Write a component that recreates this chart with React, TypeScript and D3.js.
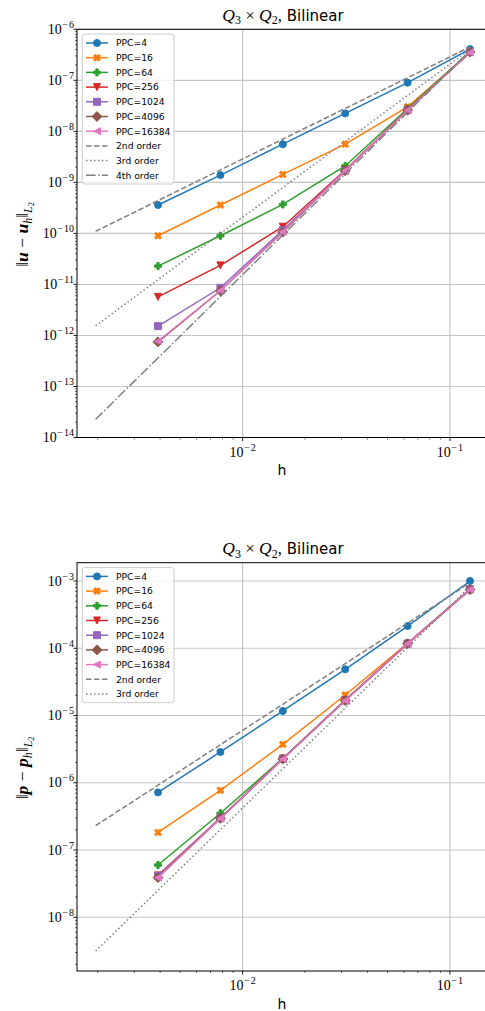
import * as d3 from 'd3'

// mesh sizes
const H_DATA = [0.00390625, 0.0078125, 0.015625, 0.03125, 0.0625, 0.125]
const H_REF = [0.001953125, 0.00390625, 0.0078125, 0.015625, 0.03125, 0.0625, 0.125]

const PPC_LABELS = ['PPC=4', 'PPC=16', 'PPC=64', 'PPC=256', 'PPC=1024', 'PPC=4096', 'PPC=16384']
const PPC_COLORS = ['#1f77b4', '#ff7f0e', '#2ca02c', '#d62728', '#9467bd', '#8c564b', '#e377c2']
const PPC_MARKERS = ['o', 'X', 'P', 'v', 's', 'D', '<']

const ORDER_LABELS = ['2nd order', '3rd order', '4th order']
const ORDER_DASH = ['5.55,2.4', '1.5,2.475', '9.6,2.4,1.5,2.4']

// velocity error ||u - u_h||
const U_PPC4 = [3.6e-10, 1.39e-9, 5.6e-9, 2.25e-8, 9.0e-8, 4.1e-7]
const U_PPC16 = [9.0e-11, 3.6e-10, 1.43e-9, 5.6e-9, 3.03e-8, 3.5e-7]
const U_PPC64 = [2.29e-11, 9.0e-11, 3.7e-10, 2.1e-9, 2.8e-8, 3.65e-7]
const U_PPC256 = [5.7e-12, 2.36e-11, 1.35e-10, 1.75e-9, 2.65e-8, 3.5e-7]
const U_PPC1024 = [1.52e-12, 8.6e-12, 1.16e-10, 1.7e-9, 2.6e-8, 3.6e-7]
const U_PPC4096 = [7.5e-13, 7.5e-12, 1.06e-10, 1.68e-9, 2.6e-8, 3.6e-7]
const U_PPC16384 = [7.7e-13, 7.6e-12, 1.08e-10, 1.7e-9, 2.6e-8, 3.5e-7]
const U_ORDER2 = [1.1e-10, 4.39e-10, 1.76e-9, 7.03e-9, 2.81e-8, 1.125e-7, 4.5e-7]
const U_ORDER3 = [1.54e-12, 1.24e-11, 9.89e-11, 7.91e-10, 6.33e-9, 5.06e-8, 4.05e-7]
const U_ORDER4 = [2.27e-14, 3.62e-13, 5.8e-12, 9.28e-11, 1.48e-9, 2.375e-8, 3.8e-7]

// pressure error ||p - p_h||
const P_PPC4 = [7.2e-7, 2.87e-6, 1.17e-5, 4.87e-5, 2.14e-4, 1.0e-3]
const P_PPC16 = [1.83e-7, 7.73e-7, 3.73e-6, 2.02e-5, 1.18e-4, 7.5e-4]
const P_PPC64 = [6.0e-8, 3.52e-7, 2.31e-6, 1.7e-5, 1.17e-4, 7.5e-4]
const P_PPC256 = [4.2e-8, 3.0e-7, 2.28e-6, 1.68e-5, 1.17e-4, 7.5e-4]
const P_PPC1024 = [4.1e-8, 2.98e-7, 2.27e-6, 1.67e-5, 1.17e-4, 7.5e-4]
const P_PPC4096 = [3.9e-8, 2.96e-7, 2.26e-6, 1.67e-5, 1.17e-4, 7.45e-4]
const P_PPC16384 = [3.9e-8, 2.95e-7, 2.26e-6, 1.67e-5, 1.17e-4, 7.45e-4]
const P_ORDER2 = [2.3e-7, 9.2e-7, 3.68e-6, 1.47e-5, 5.89e-5, 2.36e-4, 9.4e-4]
const P_ORDER3 = [3.15e-9, 2.52e-8, 2.02e-7, 1.61e-6, 1.29e-5, 1.03e-4, 8.26e-4]

const X_DECADES = [-2, -1]
const U_DECADES = [-14, -13, -12, -11, -10, -9, -8, -7, -6]
const P_DECADES = [-8, -7, -6, -5, -4, -3]

const WIDTH = 485
const HEIGHT = 1011
const LEFT = 77
const RIGHT = 488.7
const MS = 7
const GRAY = '#808080'
const SANS = 'DejaVu Sans, sans-serif'
const SERIF = 'Liberation Serif, DejaVu Serif, serif'

const xScale = d3.scaleLog().domain([10 ** -2.799, 10 ** -0.813]).range([LEFT, RIGHT])

function markerPath(kind: string, s: number): string {
  const h = s / 2
  const poly = (pts: number[][]) => 'M' + pts.map(p => `${p[0]},${p[1]}`).join('L') + 'Z'
  switch (kind) {
    case 's':
      return poly([[-h, -h], [h, -h], [h, h], [-h, h]])
    case 'D': {
      const d = h * Math.SQRT2
      return poly([[0, -d], [d, 0], [0, d], [-d, 0]])
    }
    case 'v':
      return poly([[-h, -h], [h, -h], [0, h]])
    case '<':
      return poly([[-h, 0], [h, -h], [h, h]])
    case 'P': {
      const a = s / 6
      return poly([[-a, -h], [a, -h], [a, -a], [h, -a], [h, a], [a, a], [a, h], [-a, h], [-a, a], [-h, a], [-h, -a], [-a, -a]])
    }
    case 'X': {
      const u = [[0.25, 0], [0.5, 0.25], [0.75, 0], [1, 0.25], [0.75, 0.5], [1, 0.75], [0.75, 1], [0.5, 0.75], [0.25, 1], [0, 0.75], [0.25, 0.5], [0, 0.25]]
      return poly(u.map(([a, b]) => [(a - 0.5) * s, (b - 0.5) * s]))
    }
    default:
      return `M${-h},0A${h},${h} 0 1,0 ${h},0A${h},${h} 0 1,0 ${-h},0Z`
  }
}

function Marker({ kind, x, y, color }: { kind: string; x: number; y: number; color: string }) {
  return (
    <path
      d={markerPath(kind, MS)}
      transform={`translate(${x},${y})`}
      fill={color}
      stroke={color}
      strokeWidth={1}
      strokeLinejoin="miter"
    />
  )
}

// 10^{-e} in the mathtext look
function Pow10({ e }: { e: number }) {
  return (
    <>
      <tspan fontSize={14}>10</tspan>
      <tspan fontSize={10} dy={-6} dx={0.5}>{'\u2212'}</tspan>
      <tspan fontSize={10} dx={1}>{Math.abs(e)}</tspan>
    </>
  )
}

type PanelProps = {
  top: number
  bottom: number
  yDomain: [number, number]
  decades: number[]
  data: number[][]
  orders: number[][]
  titleY: number
  label: 'u' | 'p'
}

function Panel({ top, bottom, yDomain, decades, data, orders, titleY, label }: PanelProps) {
  const yScale = d3.scaleLog().domain(yDomain).range([bottom, top])
  const line = d3.line<[number, number]>()
    .x(d => xScale(d[0]))
    .y(d => yScale(d[1]))

  const yMinors: number[] = []
  for (let k = Math.floor(Math.log10(yDomain[0])); k <= Math.ceil(Math.log10(yDomain[1])); k++) {
    for (let m = 2; m <= 9; m++) {
      const v = m * 10 ** k
      if (v >= yDomain[0] && v <= yDomain[1]) yMinors.push(v)
    }
  }
  const xMinors: number[] = []
  for (let k = -3; k <= -1; k++) {
    for (let m = 2; m <= 9; m++) {
      const v = m * 10 ** k
      const px = xScale(v)
      if (px >= LEFT && px <= RIGHT) xMinors.push(v)
    }
  }

  const legendItems = [
    ...PPC_LABELS.map((l, i) => ({ label: l, color: PPC_COLORS[i], marker: PPC_MARKERS[i], dash: '' })),
    ...orders.map((_, i) => ({ label: ORDER_LABELS[i], color: GRAY, marker: '', dash: ORDER_DASH[i] }))
  ]
  const legTop = top + 4.7
  const rowH = 14.7
  const legH = legendItems.length * rowH + 3

  const midY = (top + bottom) / 2

  return (
    <g>
      {/* title */}
      <text x={283} y={titleY} textAnchor="middle" fill="#000">
        <tspan fontFamily={SERIF} fontStyle="italic" fontSize={17.5}>Q</tspan>
        <tspan fontFamily={SERIF} fontSize={12} dy={3.5}>3</tspan>
        <tspan fontFamily={SERIF} fontSize={17} dy={-3.5}>{' \u00d7 '}</tspan>
        <tspan fontFamily={SERIF} fontStyle="italic" fontSize={17.5}>Q</tspan>
        <tspan fontFamily={SERIF} fontSize={12} dy={3.5}>2</tspan>
        <tspan fontFamily={SERIF} fontSize={17} dy={-3.5}>,</tspan>
        <tspan fontFamily={SANS} fontSize={15}>{' Bilinear'}</tspan>
      </text>

      {/* grid */}
      {X_DECADES.map(e => (
        <line key={`gx${e}`} x1={xScale(10 ** e)} x2={xScale(10 ** e)} y1={top} y2={bottom} stroke="#c4c4c4" strokeWidth={1.1} />
      ))}
      {decades.map(e => (
        <line key={`gy${e}`} x1={LEFT} x2={RIGHT} y1={yScale(10 ** e)} y2={yScale(10 ** e)} stroke="#c4c4c4" strokeWidth={1.1} />
      ))}

      {/* data series */}
      {data.map((vals, i) => (
        <g key={`s${i}`}>
          <path
            d={line(H_DATA.map((h, j) => [h, vals[j]] as [number, number])) ?? ''}
            fill="none"
            stroke={PPC_COLORS[i]}
            strokeWidth={1.5}
          />
          {H_DATA.map((h, j) => (
            <Marker key={j} kind={PPC_MARKERS[i]} x={xScale(h)} y={yScale(vals[j])} color={PPC_COLORS[i]} />
          ))}
        </g>
      ))}

      {/* reference slopes */}
      {orders.map((vals, i) => (
        <path
          key={`o${i}`}
          d={line(H_REF.map((h, j) => [h, vals[j]] as [number, number])) ?? ''}
          fill="none"
          stroke={GRAY}
          strokeWidth={1.5}
          strokeDasharray={ORDER_DASH[i]}
        />
      ))}

      {/* spines */}
      <rect x={LEFT} y={top} width={RIGHT - LEFT} height={bottom - top} fill="none" stroke="#000" strokeWidth={1} />

      {/* y ticks */}
      {decades.map(e => (
        <g key={`ty${e}`}>
          <line x1={LEFT - 3.5} x2={LEFT} y1={yScale(10 ** e)} y2={yScale(10 ** e)} stroke="#000" strokeWidth={0.9} />
          <text x={74} y={yScale(10 ** e) + 4.6} textAnchor="end" fontFamily={SERIF} fill="#000">
            <Pow10 e={e} />
          </text>
        </g>
      ))}
      {yMinors.map((v, i) => (
        <line key={`my${i}`} x1={LEFT - 2} x2={LEFT} y1={yScale(v)} y2={yScale(v)} stroke="#000" strokeWidth={0.6} />
      ))}

      {/* x ticks */}
      {X_DECADES.map(e => (
        <g key={`tx${e}`}>
          <line x1={xScale(10 ** e)} x2={xScale(10 ** e)} y1={bottom} y2={bottom + 3.5} stroke="#000" strokeWidth={0.9} />
          <text x={xScale(10 ** e)} y={bottom + 19} textAnchor="middle" fontFamily={SERIF} fill="#000">
            <Pow10 e={e} />
          </text>
        </g>
      ))}
      {xMinors.map((v, i) => (
        <line key={`mx${i}`} x1={xScale(v)} x2={xScale(v)} y1={bottom} y2={bottom + 2} stroke="#000" strokeWidth={0.6} />
      ))}

      {/* axis labels */}
      <text x={282} y={bottom + 37.5} textAnchor="middle" fontFamily={SANS} fontSize={14} fill="#000">h</text>
      <text transform={`translate(28,${midY + 1}) rotate(-90)`} textAnchor="middle" fontFamily={SERIF} fill="#000">
        <tspan fontSize={17.5}>{'\u2016'}</tspan>
        <tspan fontSize={17.5} fontWeight="bold" fontStyle="italic">{label}</tspan>
        <tspan fontSize={17.5}>{' \u2212 '}</tspan>
        <tspan fontSize={17.5} fontWeight="bold" fontStyle="italic">{label}</tspan>
        <tspan fontSize={12} fontStyle="italic" dy={3.5}>h</tspan>
        <tspan fontSize={17.5} dy={-3.5}>{'\u2016'}</tspan>
        <tspan fontSize={12} fontStyle="italic" dy={4}>L</tspan>
        <tspan fontSize={8.5} dy={1.5}>2</tspan>
      </text>

      {/* legend */}
      <rect x={82.3} y={legTop} width={91.7} height={legH} rx={2.5} fill="#fff" fillOpacity={0.8} stroke="#cccccc" strokeWidth={1} />
      {legendItems.map((it, i) => {
        const cy = legTop + 9 + i * rowH
        return (
          <g key={`l${i}`}>
            <line x1={86} x2={108} y1={cy} y2={cy} stroke={it.color} strokeWidth={1.5} strokeDasharray={it.dash || undefined} />
            {it.marker && <Marker kind={it.marker} x={97} y={cy} color={it.color} />}
            <text x={116} y={cy + 3.3} fontFamily={SANS} fontSize={9.2} fill="#000">{it.label}</text>
          </g>
        )
      })}
    </g>
  )
}

export default function App() {
  return (
    <svg
      width={WIDTH}
      height={HEIGHT}
      style={{ position: 'absolute', left: 0, top: 0, display: 'block', background: '#fff' }}
    >
      <rect width={WIDTH} height={HEIGHT} fill="#fff" />
      <Panel
        top={29.3}
        bottom={437.5}
        yDomain={[1e-14, 1e-6]}
        decades={U_DECADES}
        data={[U_PPC4, U_PPC16, U_PPC64, U_PPC256, U_PPC1024, U_PPC4096, U_PPC16384]}
        orders={[U_ORDER2, U_ORDER3, U_ORDER4]}
        titleY={20.7}
        label="u"
      />
      <Panel
        top={562.7}
        bottom={971}
        yDomain={[10 ** -8.798, 10 ** -2.728]}
        decades={P_DECADES}
        data={[P_PPC4, P_PPC16, P_PPC64, P_PPC256, P_PPC1024, P_PPC4096, P_PPC16384]}
        orders={[P_ORDER2, P_ORDER3]}
        titleY={554}
        label="p"
      />
    </svg>
  )
}
